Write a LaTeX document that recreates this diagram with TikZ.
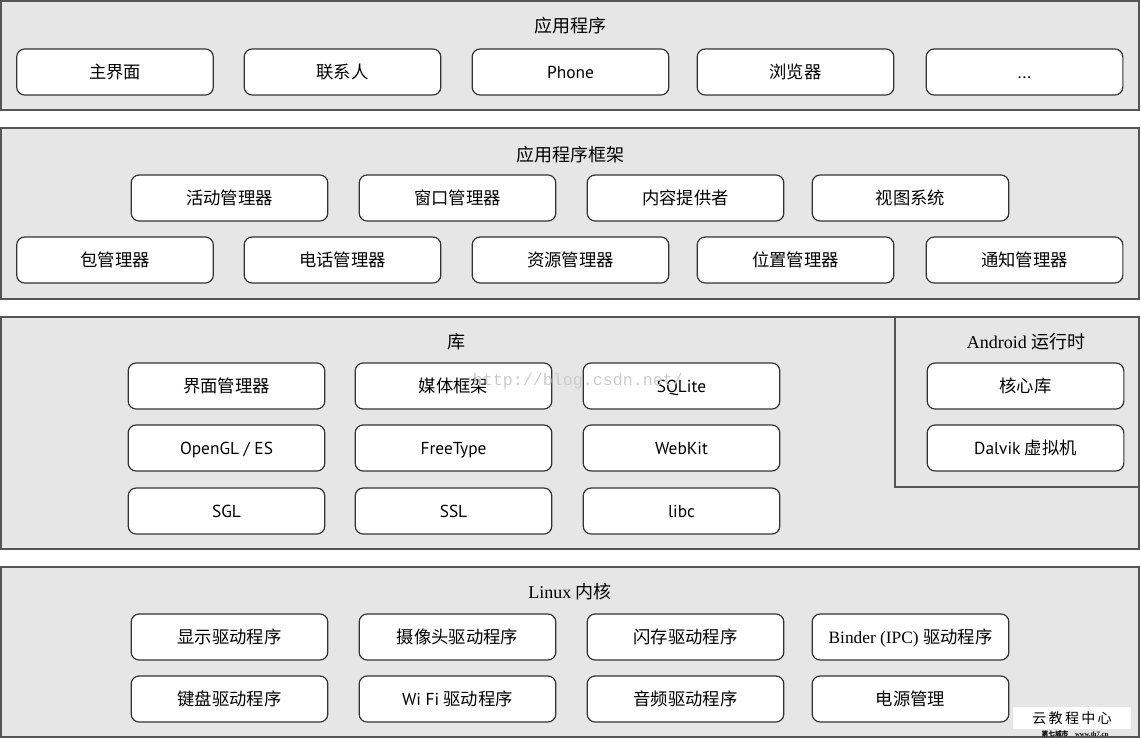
\documentclass[tikz,border=0pt]{standalone}
\usepackage{fontspec}
\setmainfont{Liberation Serif}
\newfontfamily\cjk{Noto Sans CJK SC}
\newfontfamily\lsans{PT Sans}
\newfontfamily\lmono{Liberation Mono}
\definecolor{layerfill}{HTML}{E6E6E6}
\definecolor{layerline}{HTML}{555555}
\definecolor{boxline}{HTML}{333333}
\tikzset{
  layer/.style={draw=layerline, fill=layerfill, line width=0.9pt},
  mod/.style={draw=boxline, fill=white, rounded corners=6pt, line width=0.9pt,
    minimum width=147.5pt, minimum height=34.5pt, inner sep=0pt,
    text height=12pt, text depth=2pt,
    font=\fontsize{13pt}{15pt}\selectfont},
  ttl/.style={inner sep=0pt, text height=12pt, text depth=2pt, font=\fontsize{13.5pt}{15pt}\selectfont}
}
\begin{document}
\begin{tikzpicture}[x=0.75pt,y=-0.75pt]
\useasboundingbox (0,0) rectangle (1141,739);
\fill[white] (0,0) rectangle (1141,739);
% layers
\draw[layer] (1,1) rectangle (1139,110);
\draw[layer] (1,128) rectangle (1139,299);
\draw[layer] (1,317) rectangle (1139,549);
\draw[layer] (895,317) rectangle (1139,487);
\draw[layer] (1,567) rectangle (1139,737);

% Applications
\node[ttl] (tapp) at (570,26) {\cjk 应用程序};
\node[mod] (a1) at (115,72) {\cjk 主界面};
\node[mod] (a2) at (342.5,72) {\cjk 联系人};
\node[mod] (a3) at (570.5,72) {\lsans Phone};
\node[mod] (a4) at (795.5,72) {\cjk 浏览器};
\node[mod] (a5) at (1024.5,72) {\lsans ...};

% Framework
\node[ttl] (tfw) at (570,155) {\cjk 应用程序框架};
\node[mod] (f1) at (229.5,198) {\cjk 活动管理器};
\node[mod] (f2) at (457.5,198) {\cjk 窗口管理器};
\node[mod] (f3) at (685.5,198) {\cjk 内容提供者};
\node[mod] (f4) at (910.5,198) {\cjk 视图系统};
\node[mod] (f5) at (115,260) {\cjk 包管理器};
\node[mod] (f6) at (342.5,260) {\cjk 电话管理器};
\node[mod] (f7) at (570.5,260) {\cjk 资源管理器};
\node[mod] (f8) at (795.5,260) {\cjk 位置管理器};
\node[mod] (f9) at (1024.5,260) {\cjk 通知管理器};

% Libraries
\node[ttl] (tlib) at (456,342) {\cjk 库};
\node[mod] (l1) at (226.5,386) {\cjk 界面管理器};
\node[mod] (l2) at (453.5,386) {\cjk 媒体框架};
\node[mod] (l3) at (681.5,386) {\lsans SQLite};
\node[mod] (l4) at (226.5,448) {\lsans OpenGL / ES};
\node[mod] (l5) at (453.5,448) {\lsans FreeType};
\node[mod] (l6) at (681.5,448) {\lsans WebKit};
\node[mod] (l7) at (226.5,511) {\lsans SGL};
\node[mod] (l8) at (453.5,511) {\lsans SSL};
\node[mod] (l9) at (681.5,511) {\lsans libc};

% Android runtime
\node[ttl] (trt) at (1026,342) {Android {\cjk 运行时}};
\node[mod] (r1) at (1025.5,386) {\cjk 核心库};
\node[mod] (r2) at (1025.5,448) {{\lsans Dalvik} {\cjk 虚拟机}};

% Kernel
\node[ttl] (tk) at (570,592) {Linux {\cjk 内核}};
\node[mod] (k1) at (229.5,637) {\cjk 显示驱动程序};
\node[mod] (k2) at (457.5,637) {\cjk 摄像头驱动程序};
\node[mod] (k3) at (685.5,637) {\cjk 闪存驱动程序};
\node[mod] (k4) at (910.5,637) {Binder (IPC) {\cjk 驱动程序}};
\node[mod] (k5) at (229.5,699) {\cjk 键盘驱动程序};
\node[mod] (k6) at (457.5,699) {{\lsans Wi Fi} {\cjk 驱动程序}};
\node[mod] (k7) at (685.5,699) {\cjk 音频驱动程序};
\node[mod] (k8) at (910.5,699) {\cjk 电源管理};

% watermarks
\node[inner sep=0pt, text=black!20, font=\lmono\fontsize{12.5pt}{14pt}\selectfont] (wm) at (578,381) {http://blog.csdn.net/};
\node[fill=white, inner sep=0pt, minimum width=88pt, minimum height=16pt,
  font=\cjk\fontsize{10.5pt}{12pt}\selectfont] (logo) at (1072,718) {云\,教\,程\,中\,心};
\node[inner sep=0pt, font=\bfseries\fontsize{5pt}{6pt}\selectfont] (logo2) at (1075,733.5) {{\cjk 第七城市}\quad www.th7.cn};
\end{tikzpicture}
\end{document}
